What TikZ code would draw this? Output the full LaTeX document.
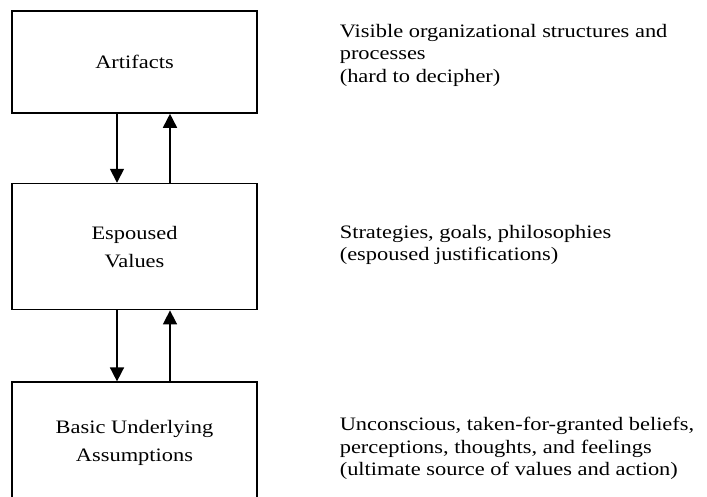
\documentclass[tikz,border=0pt]{standalone}
\usepackage{fontspec}
\setmainfont[FakeStretch=1.18]{Liberation Serif}
\usepackage{tikz}
\usetikzlibrary{arrows.meta}
\usetikzlibrary{positioning}

\begin{document}
\begin{tikzpicture}[x=1pt, y=1pt, line width=1.6pt, >={Triangle[width=14pt,length=14pt]},
	level/.style={draw, minimum width=245pt, align=center, inner sep=0pt, font=\fontsize{19}{28}\selectfont},
	note/.style={anchor=north west, align=left, inner sep=0pt, font=\fontsize{19}{22.5}\selectfont}]
	\useasboundingbox (0,0) rectangle (707,497);

	\node[level, minimum height=102pt] (art) at (134.5,435) {Artifacts};
	\node[level, minimum height=126pt] (val) [below = 69pt of art] {Espoused\\Values};
	\node[level, minimum height=122pt] (ass) [below = 71pt of val] {Basic Underlying\\Assumptions};

	\node[note] (artnote) at (339,473.5) {Visible organizational structures and\\processes\\(hard to decipher)};
	\node[note] (valnote) at (339,272.5) {Strategies, goals, philosophies\\(espoused justifications)};
	\node[note] (assnote) at (339,80.5) {Unconscious, taken-for-granted beliefs,\\perceptions, thoughts, and feelings\\(ultimate source of values and action)};

	\draw[->] ([xshift=-17.5pt]art.south) -- ([xshift=-17.5pt]val.north);
	\draw[->] ([xshift=35.5pt]val.north) -- ([xshift=35.5pt]art.south);
	\draw[->] ([xshift=-17.5pt]val.south) -- ([xshift=-17.5pt]ass.north);
	\draw[->] ([xshift=35.5pt]ass.north) -- ([xshift=35.5pt]val.south);
\end{tikzpicture}
\end{document}
